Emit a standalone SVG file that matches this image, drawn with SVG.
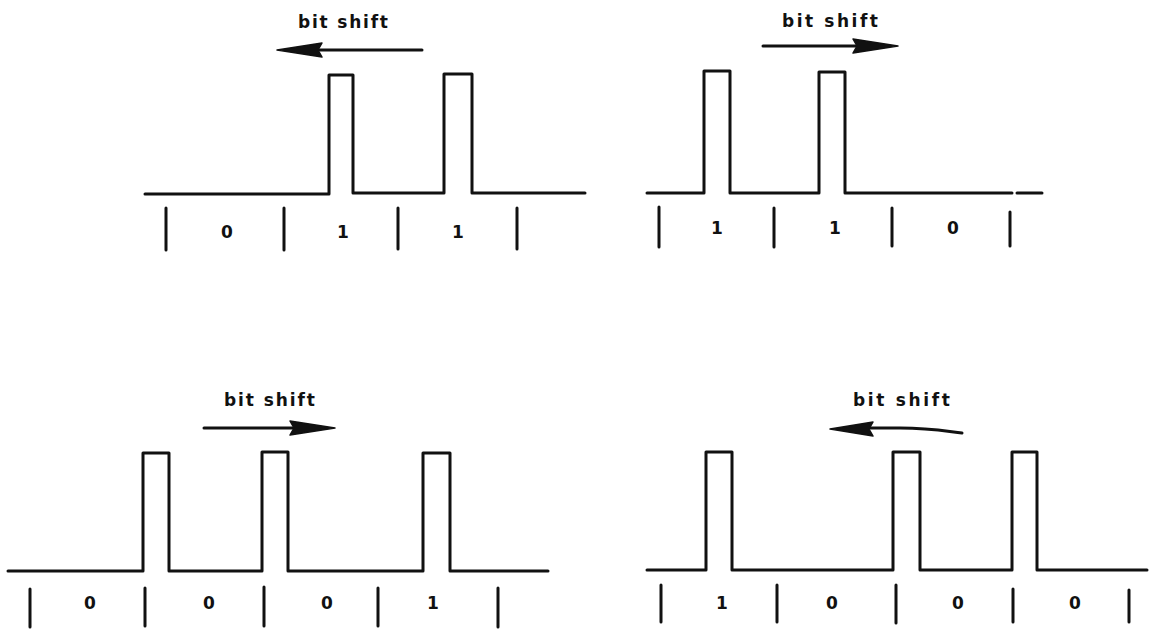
<svg xmlns="http://www.w3.org/2000/svg" width="1149" height="630" viewBox="0 0 1149 630">
<style>
.wave{fill:none;stroke:#111;stroke-width:3;stroke-linejoin:round;stroke-linecap:round}
.tick{stroke:#111;stroke-width:3;stroke-linecap:round}
.arr{fill:none;stroke:#111;stroke-width:3;stroke-linecap:round}
.head{fill:#111;stroke:#111;stroke-width:1.5;stroke-linejoin:round}
.lbl{font-family:"DejaVu Sans","Liberation Sans",sans-serif;font-weight:bold;font-size:17px;fill:#111}
.bit{font-family:"DejaVu Sans","Liberation Sans",sans-serif;font-weight:bold;font-size:17px;fill:#111;text-anchor:middle}
</style>
<rect width="1149" height="630" fill="#fff"/>

<g id="panel-top-left">
  <text class="lbl" x="298" y="28" textLength="90" lengthAdjust="spacing">bit shift</text>
  <path class="arr" d="M422,50 H300"/>
  <polygon class="head" points="277,50 322,43 318,50 322,57"/>
  <path class="wave" d="M145,194 H329 V75 H353 V193 H444 V74 H472 V193 H585"/>
  <g class="tick">
    <line x1="166" y1="208" x2="166" y2="250"/>
    <line x1="284" y1="208" x2="284" y2="250"/>
    <line x1="398" y1="208" x2="398" y2="249"/>
    <line x1="517" y1="208" x2="517" y2="249"/>
  </g>
  <text class="bit" x="227" y="238">0</text>
  <text class="bit" x="343" y="238">1</text>
  <text class="bit" x="458" y="238">1</text>
</g>

<g id="panel-top-right">
  <text class="lbl" x="782" y="27" textLength="96" lengthAdjust="spacing">bit shift</text>
  <path class="arr" d="M763,46 H875"/>
  <polygon class="head" points="898,46 853,39 857,46 853,53"/>
  <path class="wave" d="M647,193 H704 V71 H730 V193 H819 V72 H845 V193 H1012"/>
  <path class="wave" d="M1017,193 H1042"/>
  <g class="tick">
    <line x1="659" y1="207" x2="659" y2="247"/>
    <line x1="774" y1="208" x2="774" y2="247"/>
    <line x1="892" y1="208" x2="892" y2="246"/>
    <line x1="1010" y1="212" x2="1010" y2="246"/>
  </g>
  <text class="bit" x="717" y="234">1</text>
  <text class="bit" x="835" y="234">1</text>
  <text class="bit" x="953" y="234">0</text>
</g>

<g id="panel-bottom-left">
  <text class="lbl" x="224" y="406" textLength="91" lengthAdjust="spacing">bit shift</text>
  <path class="arr" d="M204,428 H312"/>
  <polygon class="head" points="335,428 290,421 294,428 290,435"/>
  <path class="wave" d="M8,571 H143 V453 H169 V571 H262 V452 H288 V571 H423 V453 H450 V571 H548"/>
  <g class="tick">
    <line x1="30" y1="589" x2="30" y2="627"/>
    <line x1="145" y1="588" x2="145" y2="626"/>
    <line x1="264" y1="587" x2="264" y2="626"/>
    <line x1="378" y1="588" x2="378" y2="626"/>
    <line x1="498" y1="588" x2="498" y2="627"/>
  </g>
  <text class="bit" x="90" y="609">0</text>
  <text class="bit" x="209" y="609">0</text>
  <text class="bit" x="327" y="609">0</text>
  <text class="bit" x="433" y="609">1</text>
</g>

<g id="panel-bottom-right">
  <text class="lbl" x="853" y="406" textLength="97" lengthAdjust="spacing">bit shift</text>
  <path class="arr" d="M962,433 C945,431 930,428 900,428 H852"/>
  <polygon class="head" points="830,429 873,422 869,429 873,436"/>
  <path class="wave" d="M647,570 H706 V452 H732 V570 H893 V452 H920 V570 H1012 V452 H1037 V570 H1147"/>
  <g class="tick">
    <line x1="661" y1="585" x2="661" y2="622"/>
    <line x1="777" y1="585" x2="777" y2="622"/>
    <line x1="896" y1="585" x2="896" y2="623"/>
    <line x1="1013" y1="589" x2="1013" y2="622"/>
    <line x1="1129" y1="590" x2="1129" y2="622"/>
  </g>
  <text class="bit" x="722" y="609">1</text>
  <text class="bit" x="832" y="609">0</text>
  <text class="bit" x="958" y="609">0</text>
  <text class="bit" x="1075" y="609">0</text>
</g>
</svg>
